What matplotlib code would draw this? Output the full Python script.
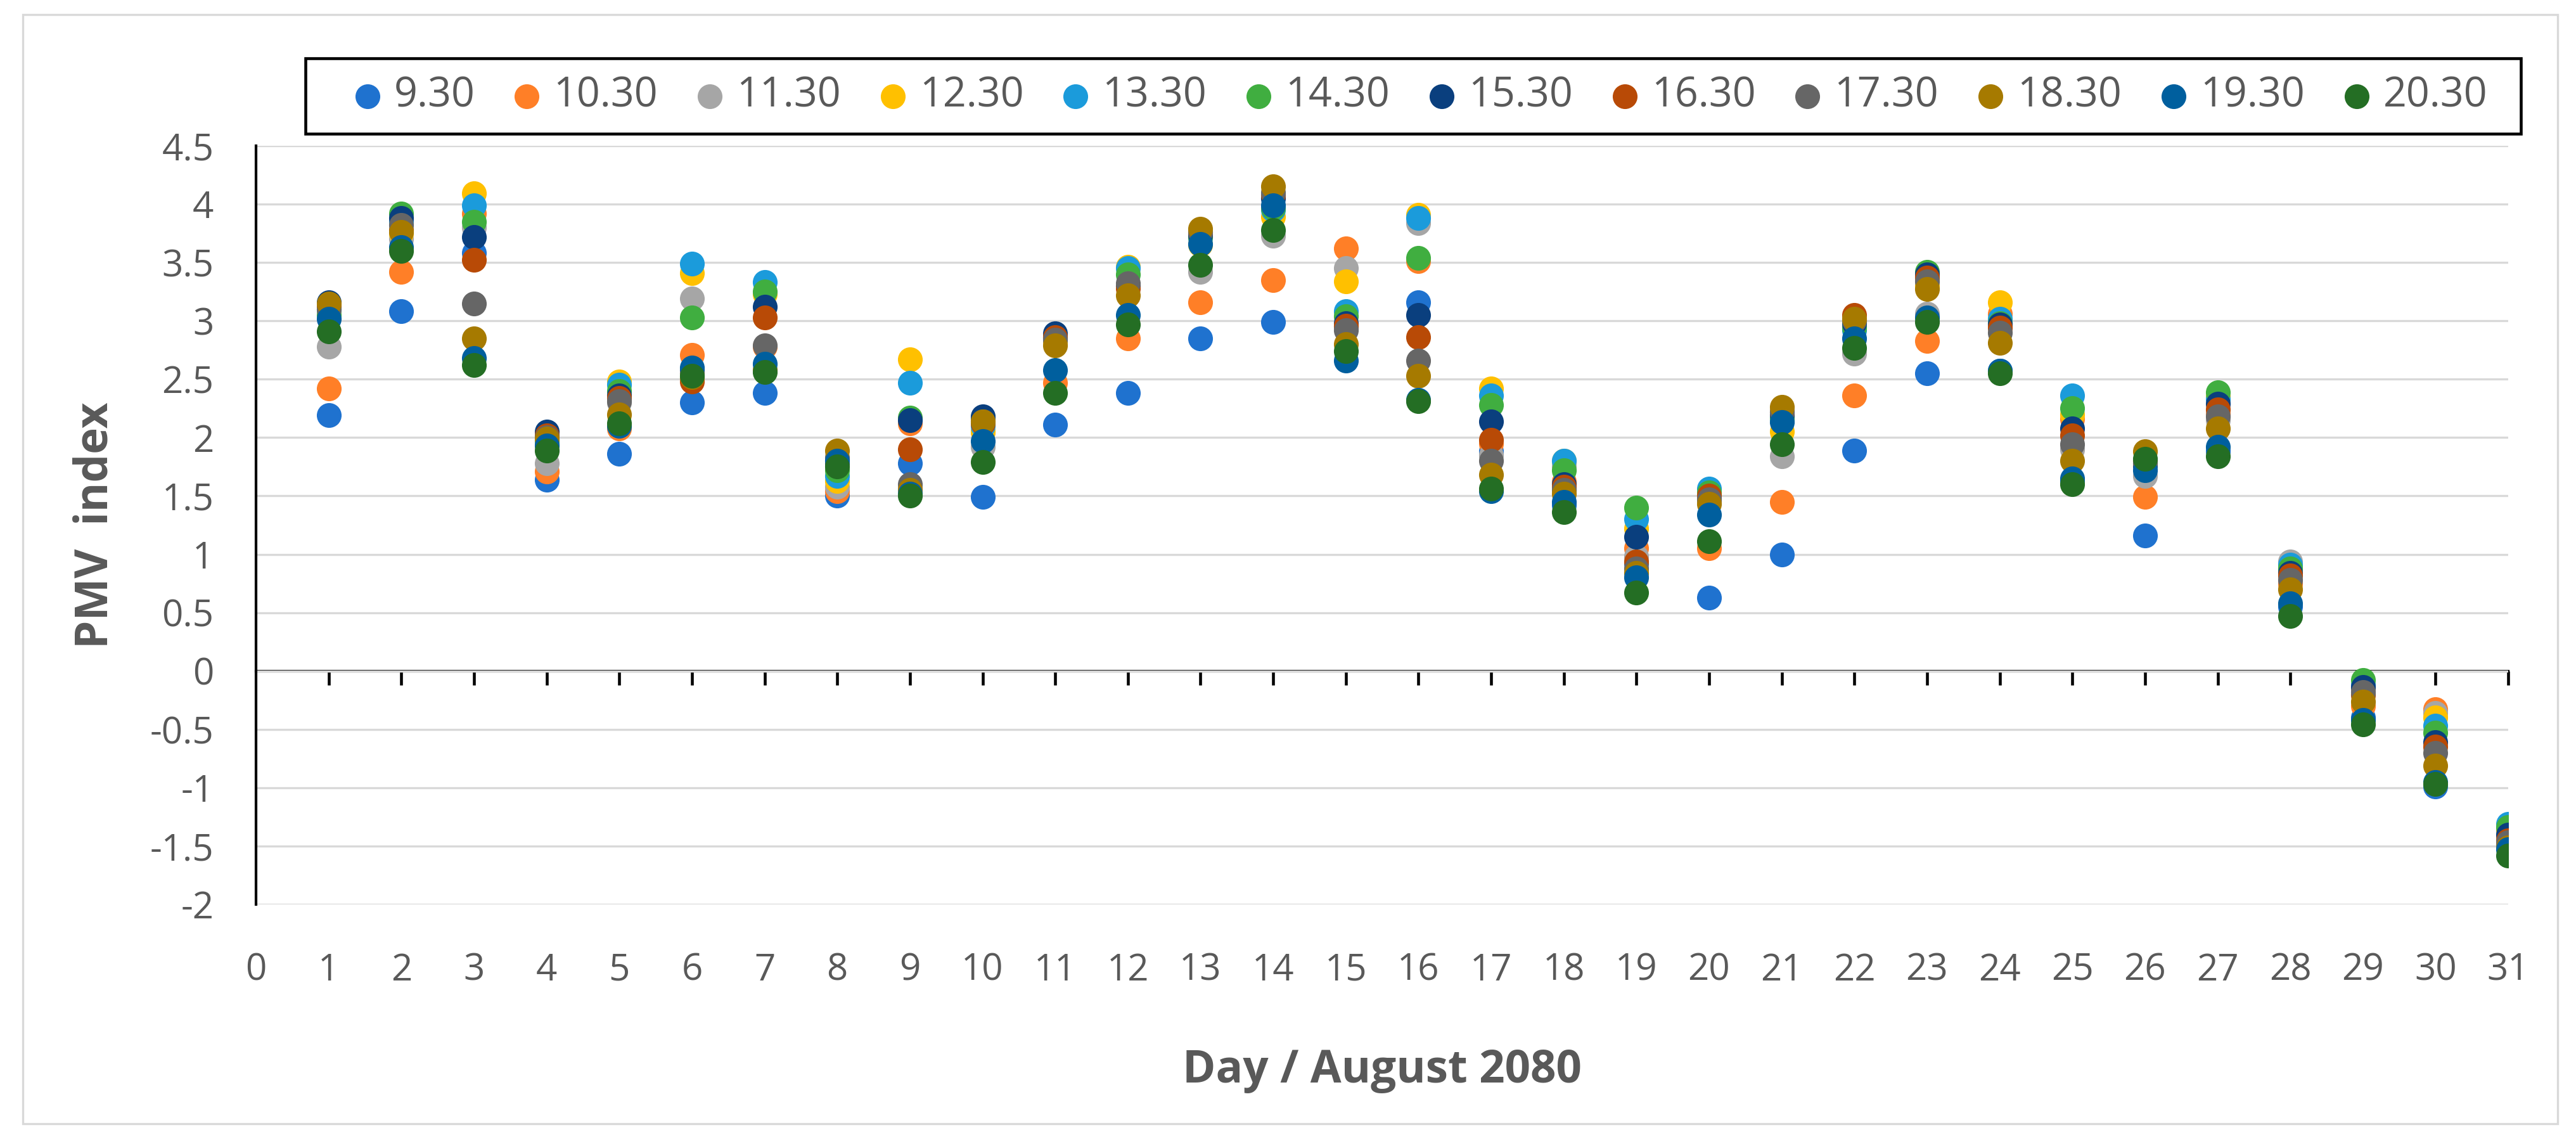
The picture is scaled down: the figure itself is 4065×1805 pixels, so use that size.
import numpy as np
import matplotlib
matplotlib.use('Agg')
import matplotlib.pyplot as plt
from matplotlib.patches import Rectangle
from matplotlib.ticker import FuncFormatter, MultipleLocator

days = list(range(1, 32))

labels = ['9.30', '10.30', '11.30', '12.30', '13.30', '14.30',
          '15.30', '16.30', '17.30', '18.30', '19.30', '20.30']

colors = ['#1F72CF', '#FF7F27', '#A6A6A6', '#FFC000', '#1B9BDB', '#40AE40',
          '#0A3F7E', '#B84A06', '#666666', '#A67A00', '#005F9E', '#246E24']

# PMV values per hour, days 1..31
s0930 = [2.19, 3.08, 3.58, 1.64, 1.86, 2.30, 2.38, 1.50, 1.78, 1.49, 2.11, 2.38, 2.85, 2.99, 2.95, 3.16,
         1.88, 1.42, 0.92, 0.63, 1.00, 1.89, 2.55, 2.57, 1.62, 1.16, 1.88, 0.55, -0.40, -0.99, -1.50]
s1030 = [2.42, 3.42, 3.92, 1.71, 2.08, 2.71, 2.78, 1.54, 2.12, 2.05, 2.47, 2.85, 3.16, 3.35, 3.62, 3.51,
         1.95, 1.62, 1.05, 1.05, 1.45, 2.36, 2.83, 3.06, 2.16, 1.49, 2.20, 0.75, -0.30, -0.33, -1.42]
s1130 = [2.78, 3.70, 3.80, 1.78, 2.30, 3.19, 2.58, 1.58, 1.57, 1.92, 2.85, 3.30, 3.42, 3.73, 3.45, 3.84,
         1.85, 1.75, 0.98, 1.45, 1.84, 2.72, 3.06, 2.95, 1.90, 1.67, 2.15, 0.94, -0.20, -0.36, -1.40]
s1230 = [3.10, 3.75, 4.09, 1.95, 2.48, 3.41, 3.23, 1.63, 2.67, 2.05, 2.82, 3.46, 3.65, 3.89, 3.34, 3.91,
         2.42, 1.80, 1.22, 1.50, 2.05, 2.95, 3.30, 3.16, 2.20, 1.80, 2.35, 0.88, -0.15, -0.40, -1.36]
s1330 = [3.10, 3.85, 3.99, 1.97, 2.45, 3.49, 3.33, 1.67, 2.47, 2.10, 2.85, 3.45, 3.72, 3.95, 3.08, 3.88,
         2.36, 1.80, 1.30, 1.56, 2.15, 2.92, 3.38, 3.02, 2.36, 1.78, 2.33, 0.91, -0.12, -0.47, -1.31]
s1430 = [3.05, 3.92, 3.85, 1.98, 2.40, 3.03, 3.25, 1.72, 2.17, 2.17, 2.86, 3.40, 3.72, 3.97, 3.04, 3.54,
         2.28, 1.72, 1.40, 1.53, 2.17, 2.94, 3.42, 2.98, 2.25, 1.80, 2.39, 0.88, -0.08, -0.53, -1.34]
s1530 = [3.16, 3.88, 3.72, 2.05, 2.36, 2.58, 3.12, 1.78, 2.15, 2.18, 2.89, 3.30, 3.74, 4.05, 2.98, 3.05,
         2.14, 1.60, 1.15, 1.48, 2.20, 2.98, 3.40, 2.97, 2.08, 1.76, 2.29, 0.84, -0.14, -0.61, -1.40]
s1630 = [3.12, 3.78, 3.52, 2.02, 2.34, 2.48, 3.03, 1.80, 1.90, 2.12, 2.86, 3.28, 3.76, 4.08, 2.96, 2.86,
         1.98, 1.58, 0.94, 1.50, 2.22, 3.05, 3.37, 2.94, 2.02, 1.80, 2.24, 0.82, -0.20, -0.65, -1.45]
s1730 = [3.10, 3.82, 3.15, 2.00, 2.31, 2.55, 2.79, 1.83, 1.60, 2.14, 2.84, 3.32, 3.76, 4.10, 2.92, 2.66,
         1.80, 1.55, 0.88, 1.47, 2.22, 3.00, 3.34, 2.90, 1.94, 1.78, 2.18, 0.78, -0.18, -0.70, -1.47]
s1830 = [3.15, 3.76, 2.85, 1.99, 2.20, 2.52, 2.58, 1.89, 1.55, 2.14, 2.79, 3.22, 3.79, 4.15, 2.80, 2.53,
         1.68, 1.52, 0.84, 1.43, 2.26, 3.02, 3.27, 2.81, 1.80, 1.88, 2.08, 0.70, -0.26, -0.81, -1.51]
s1930 = [3.02, 3.63, 2.68, 1.93, 2.10, 2.60, 2.63, 1.80, 1.52, 1.97, 2.58, 3.05, 3.66, 3.99, 2.66, 2.32,
         1.54, 1.45, 0.80, 1.34, 2.13, 2.85, 3.03, 2.57, 1.65, 1.72, 1.92, 0.58, -0.42, -0.95, -1.53]
s2030 = [2.91, 3.60, 2.62, 1.89, 2.12, 2.53, 2.56, 1.75, 1.50, 1.79, 2.38, 2.97, 3.48, 3.78, 2.74, 2.31,
         1.56, 1.36, 0.67, 1.11, 1.94, 2.77, 2.99, 2.55, 1.60, 1.82, 1.84, 0.47, -0.46, -0.97, -1.58]

series = [s0930, s1030, s1130, s1230, s1330, s1430, s1530, s1630, s1730, s1830, s1930, s2030]

if __name__ == '__main__':

	plt.rcParams['font.family'] = ['Open Sans', 'DejaVu Sans']
	txtcol = '#595959'

	fig = plt.figure(figsize=(4065 / 300.0, 1805 / 300.0), dpi=300)
	ax = fig.add_axes([0.0994, 0.2094, 0.8743, 0.6632])

	for vals, lab, col in zip(series, labels, colors):
		ax.scatter(days, vals, s=88, color=col, linewidths=0, label=lab, zorder=3)

	ax.set_xlim(0, 31)
	ax.set_ylim(-2, 4.5)

	ax.yaxis.set_major_locator(MultipleLocator(0.5))
	ax.yaxis.set_major_formatter(FuncFormatter(lambda v, p: '%g' % v))
	ax.grid(axis='y', color='#D9D9D9', linewidth=0.8, zorder=0)
	ax.set_axisbelow(True)

	for side in ['top', 'right', 'bottom']:
		ax.spines[side].set_visible(False)
	ax.spines['left'].set_linewidth(1.0)

	# labels at the bottom, no tick marks there
	ax.set_xticks(range(0, 32))
	ax.tick_params(axis='x', length=0, pad=18, labelsize=14, labelcolor=txtcol)
	ax.tick_params(axis='y', length=0, pad=16, labelsize=14, labelcolor=txtcol)

	# axis line crossing at zero with tick marks
	sec = ax.secondary_xaxis(2 / 6.5)
	sec.set_xticks(range(1, 32))
	sec.tick_params(axis='x', direction='out', length=5.3, width=1.1, labelbottom=False, labeltop=False)
	sec.spines['bottom'].set_linewidth(1.0)

	fig.text(0.5366, 0.064, 'Day / August 2080', ha='center', va='center',
			 fontsize=17, fontweight='bold', color=txtcol)
	fig.text(0.037, 0.541, 'PMV  index', ha='center', va='center', rotation=90,
			 fontsize=17, fontweight='bold', color=txtcol)

	# legend entries, frame drawn separately
	leg = fig.legend(loc='center', bbox_to_anchor=(0.137, 0.916, 0.8286, 0.0),
					 mode='expand', ncol=12, fontsize=15.5, frameon=False,
					 borderaxespad=0, borderpad=0, handlelength=0.7, handletextpad=0.3,
					 markerscale=1.0, scatterpoints=1)
	for t in leg.get_texts():
		t.set_color(txtcol)

	fig.patches.append(Rectangle((0.1186, 0.883), 0.860, 0.0659, transform=fig.transFigure,
								 fill=False, edgecolor='black', linewidth=1.1))

	fig.patches.append(Rectangle((0.00886, 0.0177), 0.984, 0.9695, transform=fig.transFigure,
								 fill=False, edgecolor='#D9D9D9', linewidth=0.8))

	fig.savefig('out.png', dpi=300)
	plt.close(fig)
